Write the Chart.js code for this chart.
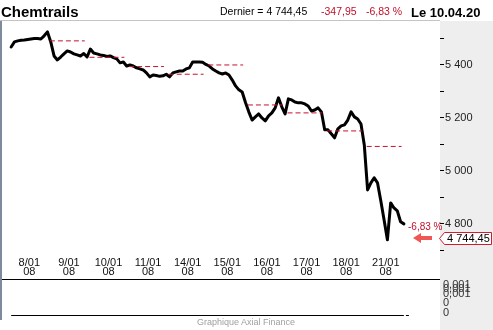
<!DOCTYPE html>
<html>
<head>
<meta charset="utf-8">
<script src="https://cdn.jsdelivr.net/npm/chart.js@4.4.0/dist/chart.umd.min.js"></script>
<style>
    html, body { margin: 0; padding: 0; background: #fff; }
    #wrap { position: relative; width: 493px; height: 330px; overflow: hidden; font-family: 'Liberation Sans', Arial, sans-serif; }
    #chart { position: absolute; left: 0; top: 0; }
    .t { position: absolute; white-space: nowrap; line-height: 1; }
    .red { color: #c0102c; }
    .side { left: 443px; font-size: 11px; color: #333; }
</style>
</head>
<body>
<div id="wrap">
    <canvas id="chart" width="493" height="330"></canvas>
    <div class="t" style="left:1px; top:4px; font-size:15px; font-weight:bold;">Chemtrails</div>
    <div class="t" style="left:220px; top:6px; font-size:10.5px;">Dernier = 4 744,45</div>
    <div class="t red" style="left:321px; top:6px; font-size:10.5px;">-347,95</div>
    <div class="t red" style="left:366px; top:6px; font-size:10.5px;">-6,83 %</div>
    <div class="t" style="left:411px; top:6px; font-size:13px; font-weight:bold;">Le 10.04.20</div>
    <div class="t side" style="top:279px;">0,001</div>
    <div class="t side" style="top:283px;">0,001</div>
    <div class="t side" style="top:288px;">0,001</div>
    <div class="t side" style="top:297px;">0</div>
    <div class="t side" style="top:307px;">0</div>
    <div class="t" style="left:197px; top:318px; font-size:9px; color:#a0a0a0;">Graphique Axial Finance</div>
</div>
<script>
// --- Data ---
const dayLabels = ['8/01', '9/01', '10/01', '11/01', '14/01', '15/01', '16/01', '17/01', '18/01', '21/01'];
const yearLabel = '08';

// intraday prices, one array per session
const s0801 = [5468, 5487, 5491, 5493, 5494, 5496, 5498, 5500, 5500, 5498, 5510, 5525];
const s0901 = [5487, 5434, 5419, 5430, 5442, 5453, 5449, 5442, 5438, 5434, 5443, 5430];
const s1001 = [5460, 5445, 5442, 5438, 5436, 5432, 5434, 5428, 5423, 5408, 5411, 5396];
const s1101 = [5400, 5396, 5389, 5385, 5381, 5370, 5355, 5362, 5360, 5357, 5359, 5365];
const s1401 = [5355, 5370, 5374, 5377, 5377, 5385, 5389, 5411, 5411, 5411, 5410, 5402];
const s1501 = [5396, 5385, 5377, 5370, 5366, 5370, 5362, 5343, 5321, 5306, 5298, 5258];
const s1601 = [5223, 5192, 5204, 5215, 5200, 5189, 5208, 5219, 5238, 5276, 5242, 5215];
const s1701 = [5272, 5268, 5260, 5257, 5257, 5253, 5245, 5226, 5230, 5238, 5223, 5155];
const s1801 = [5155, 5140, 5125, 5159, 5170, 5174, 5192, 5223, 5204, 5196, 5177, 5098];
const s2101 = [4928, 4955, 4974, 4955, 4887, 4815, 4740, 4879, 4860, 4849, 4808, 4800];
const sessions = [s0801, s0901, s1001, s1101, s1401, s1501, s1601, s1701, s1801, s2101];

// previous close shown as dashed line in each session
const prevCloses = [null, 5491, 5429, 5394, 5365, 5400, 5249, 5219, 5151, 5092.4];

const yLabelValues = [4800, 5000, 5200, 5400];
const lastClose = 4744.45;
const changeText = '-6,83 %';
const lastText = '4 744,45';

const fmt = v => String(v).replace(/\B(?=(\d{3})+(?!\d))/g, ' ');

// --- Build datasets ---
const priceData = [];
sessions.forEach((vals, d) => {
    vals.forEach((v, k) => priceData.push({ x: d + (k + 0.5) / vals.length, y: v }));
});

const closeSets = [];
prevCloses.forEach((v, d) => {
    if (v == null) return;
    closeSets.push({
        data: [{ x: d + 0.02, y: v }, { x: d + 0.9, y: v }],
        borderColor: '#c8102e',
        borderWidth: 1,
        borderDash: [5, 3],
        pointRadius: 0,
        order: 1
    });
});

// --- Frame, panels and last value marker ---
const frame = {
    id: 'frame',
    beforeDraw(chart) {
        const { ctx, chartArea: a, scales: { x } } = chart;
        const line = (x1, y1, x2, y2) => { ctx.beginPath(); ctx.moveTo(x1, y1); ctx.lineTo(x2, y2); ctx.stroke(); };
        ctx.save();
        ctx.fillStyle = '#eeeeee';
        ctx.fillRect(a.right, a.top, chart.width - a.right, chart.height - a.top);
        ctx.lineWidth = 1;
        ctx.strokeStyle = '#c4c4c4';
        line(0, 20.5, a.right, 20.5);
        ctx.strokeStyle = '#7d8b9c';
        ctx.lineWidth = 2;
        line(1, a.top, 1, 320);
        ctx.strokeStyle = '#000';
        ctx.lineWidth = 1;
        line(2, 279.5, a.right, 279.5);
        const x0 = x.getPixelForValue(priceData[0].x);
        const x1 = x.getPixelForValue(priceData[priceData.length - 1].x);
        line(x0, 315.5, x1, 315.5);
        line(x1 + 2, 315.5, x1 + 5, 315.5);
        ctx.restore();
    },
    afterDatasetsDraw(chart) {
        const { ctx, chartArea: a, scales: { y } } = chart;
        const r = a.right;
        const yc = Math.round(y.getPixelForValue(lastClose)) - 1;
        ctx.save();
        // arrow
        ctx.fillStyle = '#ef5656';
        ctx.beginPath();
        ctx.moveTo(r - 27, yc);
        ctx.lineTo(r - 19, yc - 5);
        ctx.lineTo(r - 19, yc - 2);
        ctx.lineTo(r - 8, yc - 2);
        ctx.lineTo(r - 8, yc + 2);
        ctx.lineTo(r - 19, yc + 2);
        ctx.lineTo(r - 19, yc + 5);
        ctx.closePath();
        ctx.fill();
        // change text
        ctx.fillStyle = '#c0102c';
        ctx.font = "10px 'Liberation Sans', Arial, sans-serif";
        ctx.textAlign = 'left';
        ctx.textBaseline = 'middle';
        ctx.fillText(changeText, r - 32, yc - 11);
        // value box
        ctx.beginPath();
        ctx.moveTo(r - 0.5, yc + 0.5);
        ctx.lineTo(r + 4.5, yc - 5.5);
        ctx.lineTo(491.5, yc - 5.5);
        ctx.lineTo(491.5, yc + 6.5);
        ctx.lineTo(r + 4.5, yc + 6.5);
        ctx.closePath();
        ctx.fillStyle = '#fff';
        ctx.fill();
        ctx.strokeStyle = '#d01c30';
        ctx.lineWidth = 1;
        ctx.stroke();
        ctx.fillStyle = '#000';
        ctx.font = "11px 'Liberation Sans', Arial, sans-serif";
        ctx.fillText(lastText, r + 7, yc + 1);
        ctx.restore();
    }
};

Chart.defaults.font.family = "'Liberation Sans', Arial, sans-serif";

new Chart(document.getElementById('chart'), {
    type: 'line',
    data: {
        datasets: [{
            data: priceData,
            borderColor: '#000',
            borderWidth: 3,
            borderJoinStyle: 'round',
            borderCapStyle: 'round',
            pointRadius: 0,
            tension: 0,
            order: 2
        }, ...closeSets]
    },
    options: {
        responsive: false,
        animation: false,
        devicePixelRatio: 1,
        layout: { padding: { left: 4, top: 21, right: 0, bottom: 0 } },
        plugins: { legend: { display: false }, tooltip: { enabled: false } },
        scales: {
            x: {
                type: 'linear',
                min: -0.139,
                max: 10.87,
                afterBuildTicks: s => { s.ticks = dayLabels.map((_, i) => ({ value: i + 0.5 })); },
                afterFit: s => { s.height = 77; },
                grid: { display: false, drawTicks: false },
                border: { display: false },
                ticks: {
                    autoSkip: false,
                    maxRotation: 0,
                    padding: 5,
                    color: '#111',
                    font: { size: 11, lineHeight: '9px' },
                    callback: v => [dayLabels[Math.round(v - 0.5)], yearLabel]
                }
            },
            y: {
                position: 'right',
                min: 4690,
                max: 5566,
                afterBuildTicks: s => {
                    const t = [];
                    for (let v = 4700; v <= 5550; v += 50) t.push({ value: v });
                    s.ticks = t;
                },
                afterFit: s => { s.width = 53; },
                grid: { drawOnChartArea: false, drawTicks: true, tickLength: 4, color: '#000' },
                border: { display: false },
                ticks: {
                    padding: 1,
                    color: '#222',
                    font: { size: 11 },
                    callback: v => yLabelValues.includes(v) ? fmt(v) : ''
                }
            }
        }
    },
    plugins: [frame]
});
</script>
</body>
</html>
